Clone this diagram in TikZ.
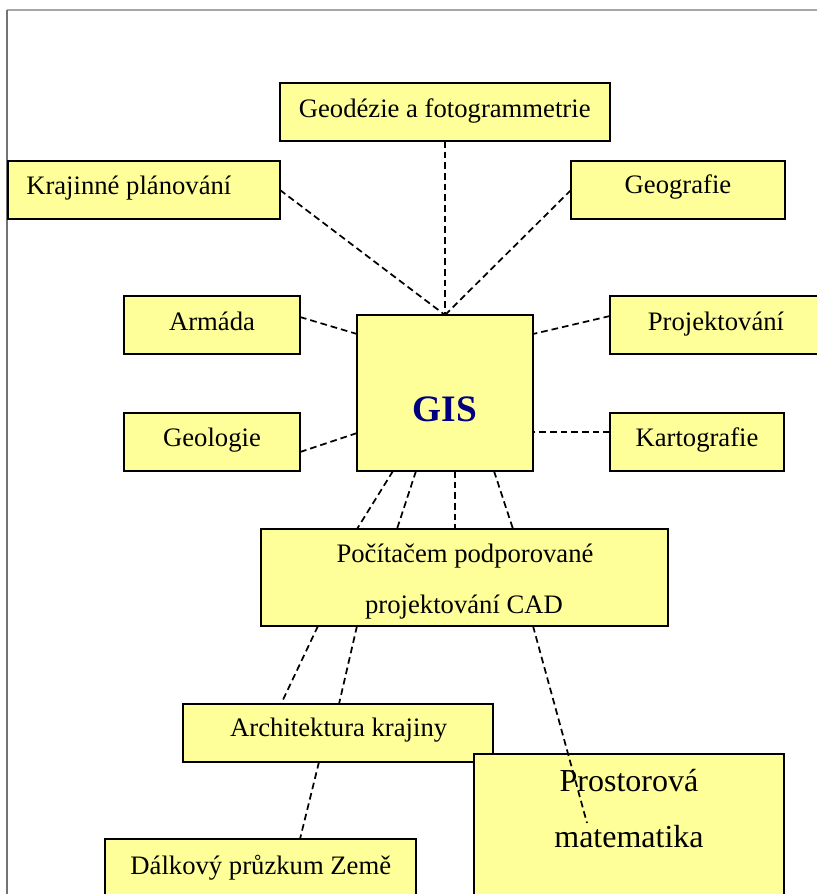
\documentclass[tikz,border=0pt]{standalone}
\usepackage{fontspec}
\setmainfont{Liberation Serif}
\usetikzlibrary{calc,fit}
\definecolor{boxfill}{RGB}{255,255,153}
\definecolor{gisblue}{RGB}{0,0,128}
\begin{document}
\begin{tikzpicture}[x=0.75pt,y=-0.75pt,
  box/.style={draw=black, line width=1.6pt, fill=boxfill, inner sep=0pt, outer sep=0pt},
  lbl/.style={inner sep=0pt, anchor=base, font=\fontsize{20}{24}\selectfont},
  link/.style={draw=black, line width=1.3pt, dash pattern=on 5pt off 3pt}]
\useasboundingbox (0,0) rectangle (817,894);
\clip (0,0) rectangle (817,894);
\fill[white] (0,0) rectangle (817,894);
% page edges
\draw[black!35, line width=1.5pt] (7,10) -- (817,10);
\draw[black!55, line width=0.8pt] (7,10) -- (7,894);

% boxes
\node[box, fit={(280,83) (610,141)}] (geod) {};
\node[box, fit={(8,161) (280,219)}] (kraj) {};
\node[box, fit={(571,161) (785,219)}] (geog) {};
\node[box, fit={(124,296) (300,354)}] (arm) {};
\node[box, fit={(124,413) (300,471)}] (geol) {};
\node[box, fit={(357,315) (533,471)}] (gis) {};
\node[box, fit={(610,296) (830,354)}] (proj) {};
\node[box, fit={(610,413) (784,471)}] (kart) {};
\node[box, fit={(261,529) (668,626)}] (cad) {};
\node[box, fit={(183,704) (493,762)}] (arch) {};
\node[box, fit={(474,754) (784,910)}] (pros) {};
\node[box, fit={(105,839) (416,910)}] (dalk) {};

% labels
\node[lbl] (geodT) at (444.7,117) {Geodézie a fotogrammetrie};
\node[lbl, anchor=base west] (krajT) at (26,194) {Krajinné plánování};
\node[lbl] (geogT) at (678,193) {Geografie};
\node[lbl] (armT) at (212,330) {Armáda};
\node[lbl] (geolT) at (212,446) {Geologie};
\node[lbl] (projT) at (716,330) {Projektování};
\node[lbl] (kartT) at (697,446) {Kartografie};
\node[lbl, font=\fontsize{28}{32}\selectfont\bfseries, text=gisblue] (gisT) at (444.7,421.7) {GIS};
\node[lbl] (cadT1) at (465,562) {Počítačem podporované};
\node[lbl] (cadT2) at (464,613) {projektování CAD};
\node[lbl] (archT) at (338.7,736.7) {Architektura krajiny};
\node[lbl, font=\fontsize{24}{28}\selectfont] (prosT1) at (629,791.7) {Prostorová};
\node[lbl, font=\fontsize{24}{28}\selectfont] (prosT2) at (629,847) {matematika};
\node[lbl] (dalkT) at (260.8,874) {Dálkový průzkum Země};

% connectors
\coordinate (prosEnd) at (587,823);
\draw[link] (geod.south) -- (gis.north);
\draw[link] (kraj.east) -- (gis.north);
\draw[link] (geog.west) -- (gis.north);
\draw[link] ($(arm.east)+(0,-8)$) -- ($(gis.west)+(0,-59)$);
\draw[link] ($(geol.east)+(0,10)$) -- ($(gis.west)+(0,40)$);
\draw[link] ($(proj.west)+(0,-9)$) -- ($(gis.east)+(0,-59)$);
\draw[link] ($(kart.west)+(0,-10)$) -- ($(gis.east)+(0,39)$);
\draw[link] ($(gis.south)+(-52,0)$) -- ($(cad.north)+(-107.5,0)$);
\draw[link] ($(gis.south)+(-29,0)$) -- ($(cad.north)+(-67.5,0)$);
\draw[link] ($(gis.south)+(10,0)$) -- ($(cad.north)+(-9.5,0)$);
\draw[link] ($(gis.south)+(49,0)$) -- ($(cad.north)+(48.5,0)$);
\draw[link] ($(cad.south)+(-146.5,0)$) -- ($(arch.north)+(-57,0)$);
\draw[link] ($(cad.south)+(-107.5,0)$) -- ($(arch.north)+(1,0)$);
\draw[link] ($(cad.south)+(68.5,0)$) -- (prosEnd);
\draw[link] ($(arch.south)+(-19,0)$) -- ($(dalk.north)+(39.5,0)$);
\end{tikzpicture}
\end{document}
